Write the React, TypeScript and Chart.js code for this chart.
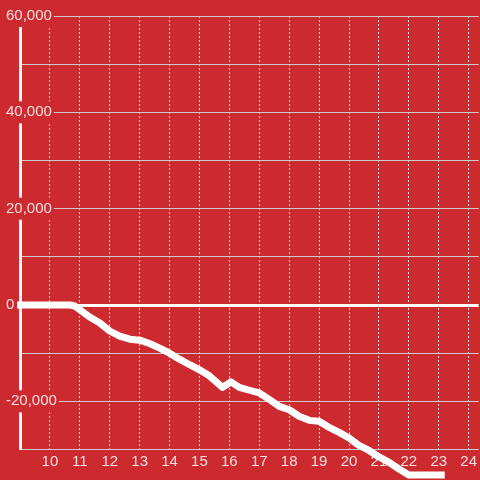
import { useEffect, useRef } from 'react';
import { Chart, registerables } from 'chart.js';

Chart.register(...registerables);

// Hours of the day (x) and running balance (y)
const hours = [
  8.9, 10.67, 10.83, 11, 11.33, 11.67, 12, 12.33, 12.67, 13, 13.33, 13.67, 14,
  14.33, 14.67, 15, 15.33, 15.77, 16.05, 16.33, 16.67, 17, 17.33, 17.67, 18,
  18.33, 18.67, 19, 19.33, 19.67, 20, 20.33, 20.67, 21, 21.33, 21.67, 22, 23.2,
];
const balance = [
  0, 0, -200, -1000, -2500, -3750, -5400, -6450, -7100, -7300, -8000, -8950,
  -10000, -11250, -12400, -13450, -14700, -17100, -15950, -17100, -17700,
  -18250, -19600, -21050, -21750, -23100, -23950, -24150, -25400, -26450,
  -27600, -29150, -30200, -31550, -32600, -34050, -35300, -35300,
];

const xMin = 9;
const xMax = 24.333;
const xStep = 1;
const yMin = -30000;
const yMax = 60000;
const yStep = 10000;
const yLabelEvery = 20000;

const BG = '#cd2a30';
const TEXT = 'rgba(255,255,255,0.85)';
const FONT = { family: "'Liberation Sans', Arial, sans-serif", size: 15 };

export default function App() {
  const ref = useRef<HTMLCanvasElement | null>(null);

  useEffect(() => {
    if (!ref.current) return;
    const chart = new Chart(ref.current, {
      type: 'line',
      data: {
        datasets: [
          {
            data: hours.map((h, i) => ({ x: h, y: balance[i] })),
            borderColor: '#ffffff',
            borderWidth: 7,
            pointRadius: 0,
            tension: 0,
            borderJoinStyle: 'round',
            clip: false,
            fill: false,
          },
        ],
      },
      options: {
        responsive: false,
        animation: false,
        layout: { padding: { left: 0, top: 16, right: 0, bottom: 6.5 } },
        plugins: { legend: { display: false }, tooltip: { enabled: false } },
        scales: {
          x: {
            type: 'linear',
            min: xMin,
            max: xMax,
            bounds: 'data',
            ticks: {
              stepSize: xStep,
              includeBounds: false,
              autoSkip: false,
              maxRotation: 0,
              color: TEXT,
              font: FONT,
              padding: 3,
              callback: (v: any) => (v === xMin ? '' : String(v)),
            },
            grid: { color: '#e4e4e4', lineWidth: 1, drawTicks: false },
            border: { display: false, dash: [2, 2] },
          },
          y: {
            type: 'linear',
            min: yMin,
            max: yMax,
            ticks: {
              stepSize: yStep,
              mirror: true,
              padding: -14,
              color: TEXT,
              font: FONT,
              callback: (v: any) =>
                Number(v) % yLabelEvery === 0 ? Number(v).toLocaleString('en-US') : '',
              showLabelBackdrop: (ctx: any) =>
                !!ctx.tick && ctx.tick.value % yLabelEvery === 0,
              backdropColor: BG,
              backdropPadding: 2,
            },
            grid: {
              color: (ctx: any) => (ctx.tick && ctx.tick.value === 0 ? '#ffffff' : '#cccccc'),
              lineWidth: (ctx: any) => (ctx.tick && ctx.tick.value === 0 ? 3 : 1),
              drawTicks: false,
            },
            border: { display: true, color: '#f4f4f4', width: 3 },
            afterFit: (s: any) => {
              s.width = 20;
            },
          },
        },
      },
    } as any);
    return () => chart.destroy();
  }, []);

  return (
    <div
      style={{
        position: 'fixed',
        left: 0,
        top: 0,
        width: 480,
        height: 480,
        background: BG,
      }}
    >
      <canvas ref={ref} width={480} height={480} style={{ display: 'block' }} />
    </div>
  );
}
